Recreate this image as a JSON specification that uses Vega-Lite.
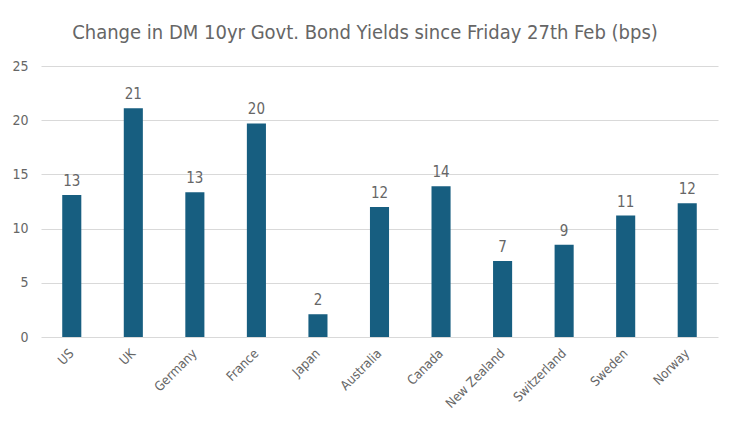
{
  "$schema": "https://vega.github.io/schema/vega-lite/v6.json",
  "width": 677,
  "height": 271,
  "padding": {"left": 11, "top": 23, "right": 20, "bottom": 5},
  "background": "white",
  "title": {
    "text": "Change in DM 10yr Govt. Bond Yields since Friday 27th Feb (bps)",
    "font": "DejaVu Sans Condensed, sans-serif",
    "fontSize": 20,
    "fontWeight": "normal",
    "color": "#666666",
    "anchor": "middle",
    "frame": "bounds",
    "offset": 16
  },
  "data": {
    "values": [
      {"country": "US", "value": 13.1},
      {"country": "UK", "value": 21.1},
      {"country": "Germany", "value": 13.35},
      {"country": "France", "value": 19.7},
      {"country": "Japan", "value": 2.1},
      {"country": "Australia", "value": 12.0},
      {"country": "Canada", "value": 13.9},
      {"country": "New Zealand", "value": 7.0},
      {"country": "Switzerland", "value": 8.5},
      {"country": "Sweden", "value": 11.2},
      {"country": "Norway", "value": 12.35}
    ]
  },
  "encoding": {
    "x": {
      "field": "country",
      "type": "nominal",
      "sort": null,
      "scale": {"paddingInner": 0.69, "paddingOuter": 0.345},
      "axis": {
        "title": null,
        "labelAngle": -45,
        "labelAlign": "right",
        "labelBaseline": "middle",
        "labelFont": "DejaVu Sans Condensed, sans-serif",
        "labelFontSize": 13,
        "labelColor": "#666666",
        "labelPadding": 14,
        "domain": false,
        "ticks": false
      }
    },
    "y": {
      "field": "value",
      "type": "quantitative",
      "scale": {"domain": [0, 25]},
      "axis": {
        "title": null,
        "values": [0, 5, 10, 15, 20, 25],
        "labelFont": "DejaVu Sans Condensed, sans-serif",
        "labelFontSize": 14,
        "labelColor": "#666666",
        "labelPadding": 13,
        "domain": false,
        "ticks": false,
        "grid": true,
        "gridColor": "#d9d9d9",
        "gridWidth": 1
      }
    }
  },
  "layer": [
    {"mark": {"type": "bar", "color": "#175e80"}},
    {
      "mark": {
        "type": "text",
        "dy": -14,
        "font": "DejaVu Sans Condensed, sans-serif",
        "fontSize": 15,
        "color": "#666666"
      },
      "encoding": {"text": {"field": "value", "type": "quantitative", "format": ".0f"}}
    }
  ],
  "config": {"view": {"stroke": null}}
}
